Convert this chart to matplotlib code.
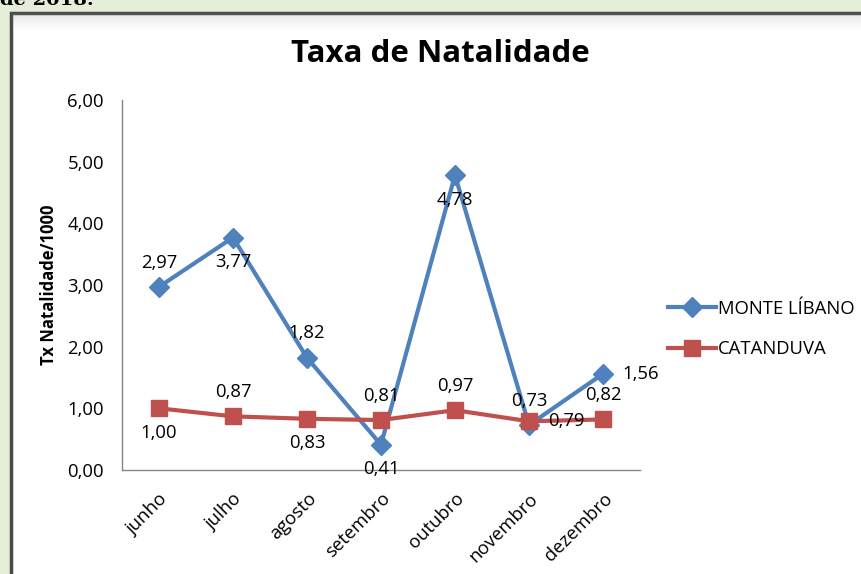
import numpy as np
import matplotlib.pyplot as plt
from matplotlib.patches import Rectangle

# taxa de natalidade por 1000 habitantes, junho a dezembro
meses = ['junho', 'julho', 'agosto', 'setembro', 'outubro', 'novembro', 'dezembro']
monte_libano = [2.97, 3.77, 1.82, 0.41, 4.78, 0.73, 1.56]
catanduva = [1.00, 0.87, 0.83, 0.81, 0.97, 0.79, 0.82]

# where each data label sits relative to its point (Excel style)
pos_ml = ['above', 'below', 'above', 'below', 'below', 'above', 'right']
pos_ca = ['below', 'above', 'below', 'above', 'above', 'right', 'above']

azul = '#4F81BD'
vermelho = '#C0504D'
fonte = 'Open Sans'
fs = 13.3

fig = plt.figure(figsize=(8.61, 5.74), dpi=100)
fig.patch.set_facecolor('#e4edd7')

# white chart panel with dark frame (screenshot look)
fig.patches.append(Rectangle((11/861, -0.05), 1.0, 1 - 13/574 + 0.05,
                             transform=fig.transFigure, facecolor='white',
                             edgecolor='#4a4a4a', linewidth=2.5, zorder=-2))
# soft shadow under the top frame
for k in range(8):
    fig.patches.append(Rectangle((12/861, 1 - (15 + 2*k)/574), 1.0, 2/574,
                                 transform=fig.transFigure, facecolor='#808080',
                                 alpha=0.18*(1 - k/8), edgecolor='none', zorder=-1))
fig.text(0.0, 1.0, 'de 2018.', fontsize=14, fontweight='bold', family='DejaVu Serif',
         ha='left', va='center', color='black')

ax = fig.add_axes([122/861, 1 - 470/574, (640 - 122)/861, 370/574])
ax.set_facecolor('none')
x = np.arange(len(meses))

ax.plot(x, monte_libano, color=azul, lw=3, marker='D', ms=10, label='MONTE LÍBANO', zorder=2)
ax.plot(x, catanduva, color=vermelho, lw=3, marker='s', ms=12, label='CATANDUVA', zorder=3)

def rotulos(vals, pos):
    for i, (v, p) in enumerate(zip(vals, pos)):
        txt = f'{v:.2f}'.replace('.', ',')
        if p == 'above':
            ax.annotate(txt, (i, v), xytext=(0, 11), textcoords='offset points',
                        ha='center', va='bottom', fontsize=fs, family=fonte)
        elif p == 'below':
            ax.annotate(txt, (i, v), xytext=(0, -11), textcoords='offset points',
                        ha='center', va='top', fontsize=fs, family=fonte)
        else:
            ax.annotate(txt, (i, v), xytext=(14, 0), textcoords='offset points',
                        ha='left', va='center', fontsize=fs, family=fonte)

rotulos(monte_libano, pos_ml)
rotulos(catanduva, pos_ca)

ax.set_xlim(-0.5, len(meses) - 0.5)
ax.set_ylim(0, 6)
ax.set_yticks(np.arange(0, 7, 1))
ax.set_yticklabels([f'{t:.2f}'.replace('.', ',') for t in np.arange(0, 7, 1)],
                   fontsize=fs, family=fonte)
ax.set_xticks(x)
ax.set_xticklabels(meses, rotation=45, ha='right', va='top', rotation_mode='anchor',
                   fontsize=fs, family=fonte)
ax.tick_params(length=0, pad=13)
ax.tick_params(axis='x', pad=14)
for s in ['top', 'right']:
    ax.spines[s].set_visible(False)
for s in ['left', 'bottom']:
    ax.spines[s].set_color('#868686')
    ax.spines[s].set_linewidth(1)

ax.set_ylabel('Tx Natalidade/1000', fontsize=12, fontweight='bold', family=fonte, labelpad=7)
fig.text(440/861, 1 - 54/574, 'Taxa de Natalidade', fontsize=22.5, fontweight='bold',
         family=fonte, ha='center', va='center')

leg = fig.legend(loc='center left', bbox_to_anchor=(668/861, 1 - 329/574), frameon=False,
                 prop={'family': fonte, 'size': fs}, handlelength=2.6, handletextpad=0.1,
                 labelspacing=1.2, borderpad=0, borderaxespad=0)

fig.savefig('out.png', dpi=100)
